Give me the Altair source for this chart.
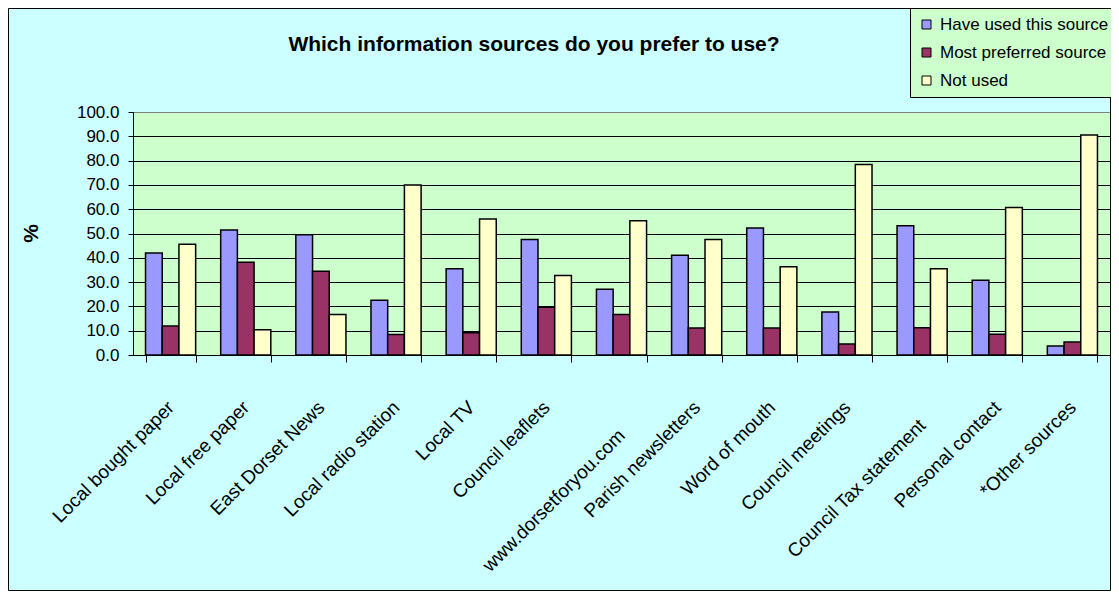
import altair as alt
import pandas as pd

categories = [
    "Local bought paper", "Local free paper", "East Dorset News",
    "Local radio station", "Local TV", "Council leaflets",
    "www.dorsetforyou.com", "Parish newsletters", "Word of mouth",
    "Council meetings", "Council Tax statement", "Personal contact",
    "*Other sources",
]
series_names = ["Have used this source", "Most preferred source", "Not used"]
have_used = [42.0, 51.4, 49.5, 22.5, 35.5, 47.5, 27.1, 41.1, 52.3, 17.7, 53.2, 30.8, 3.7]
most_preferred = [11.9, 38.2, 34.5, 8.4, 9.2, 19.6, 16.7, 11.1, 11.1, 4.5, 11.2, 8.5, 5.3]
not_used = [45.6, 10.4, 16.7, 70.0, 56.0, 32.7, 55.2, 47.5, 36.3, 78.4, 35.5, 60.7, 90.5]
colors = ["#9999FF", "#993366", "#FFFFCC"]
y_ticks = [0, 10, 20, 30, 40, 50, 60, 70, 80, 90, 100]
title_text = ["Which information sources do you prefer to use?"]

rows = []
for s, vals in zip(series_names, [have_used, most_preferred, not_used]):
    for c, v in zip(categories, vals):
        rows.append({"source": c, "series": s, "value": v})
df = pd.DataFrame(rows)

FONT = "Liberation Sans"
W, H = 977, 243
PAD = {"left": 125, "top": 104, "right": 1, "bottom": 236}

x_label_padding = {
    "condition": [
        {"test": "datum.value == 'www.dorsetforyou.com'", "value": 70},
        {"test": "datum.value == 'Council Tax statement'", "value": 60},
    ],
    "value": 42,
}

bars = alt.Chart(df).mark_bar(stroke="black", strokeWidth=1.5).encode(
    x=alt.X(
        "source:N", sort=categories,
        scale=alt.Scale(paddingInner=0.333, paddingOuter=0.1667),
        axis=alt.Axis(
            title=None, labelAngle=315, labelAlign="right", labelBaseline="middle",
            labelFontSize=19, labelFont=FONT, labelColor="black",
            labelPadding=x_label_padding, tickBand="extent", tickSize=7, tickColor="black",
            domainColor="black", grid=False, labelLimit=400,
        ),
    ),
    xOffset=alt.XOffset("series:N", sort=series_names,
                        scale=alt.Scale(paddingInner=0, paddingOuter=0)),
    y=alt.Y(
        "value:Q", scale=alt.Scale(domain=[0, 100], nice=False),
        axis=alt.Axis(
            values=y_ticks, format=".1f", title="%",
            titleFont=FONT, titleFontSize=21, titleFontWeight="bold", titleColor="black",
            titleAngle=270, titleX=-102, titleY=121, titleAlign="center", titleBaseline="middle",
            labelFontSize=17, labelFont=FONT, labelColor="black", labelPadding=9,
            tickSize=5, tickColor="black", domainColor="black",
            grid=True,
            gridColor=alt.condition("datum.value == 100", alt.value("#808080"), alt.value("black")),
            gridWidth=1,
        ),
    ),
    fill=alt.Fill(
        "series:N", sort=series_names,
        scale=alt.Scale(domain=series_names, range=colors),
        legend=alt.Legend(
            title=None, orient="none", legendX=777, legendY=-104,
            fillColor="#CCFFCC", strokeColor="black", padding=8,
            rowPadding=10, symbolType="square", symbolSize=81,
            symbolStrokeColor="black", symbolStrokeWidth=1,
            labelFontSize=17, labelFont=FONT, labelColor="black", labelOffset=5,
            labelLimit=300,
        ),
    ),
)

title = alt.Chart(pd.DataFrame({"t": title_text})).mark_text(
    font=FONT, fontSize=21, fontWeight="bold", color="black",
    align="center", baseline="alphabetic",
).encode(
    text="t:N", x=alt.value(401), y=alt.value(-61),
)

frame = alt.Chart(pd.DataFrame({"a": [0]})).mark_rect(
    fillOpacity=0, stroke="black", strokeWidth=1
).encode(
    x=alt.value(-124.5), x2=alt.value(977.5),
    y=alt.value(-103.5), y2=alt.value(478.5),
)

chart = alt.layer(bars, title, frame).properties(
    width=W, height=H,
    autosize=alt.AutoSizeParams(type="none"),
    padding=PAD,
).configure(
    background="#CCFFFF",
).configure_view(
    fill="#CCFFCC", stroke="#808080", strokeWidth=1,
)

chart.save("out.html", embed_options={"renderer": "svg", "actions": False})
